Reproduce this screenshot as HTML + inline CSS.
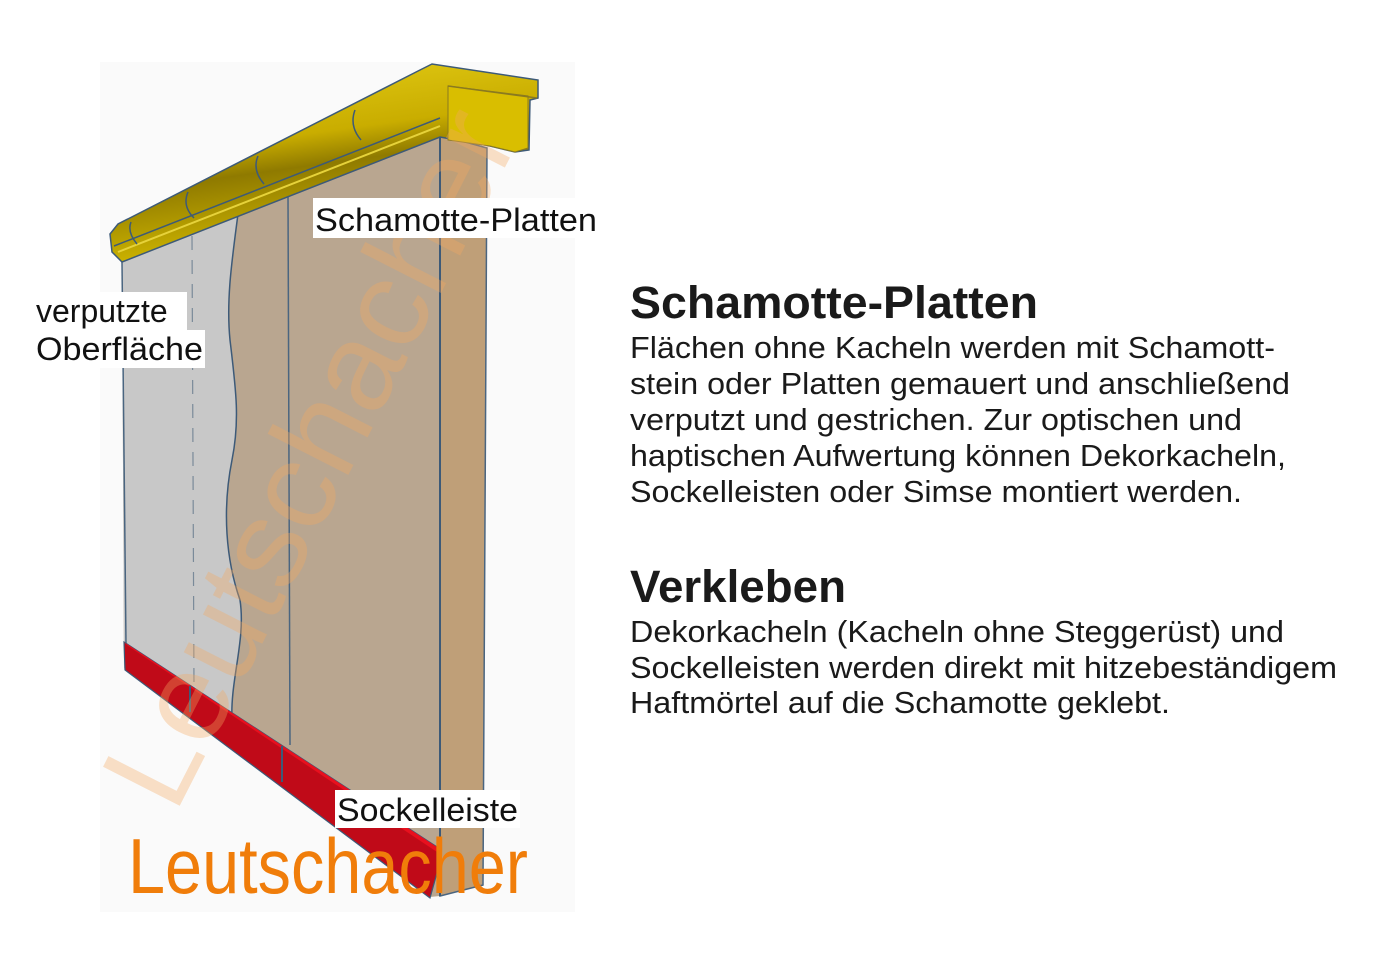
<!DOCTYPE html>
<html><head><meta charset="utf-8"><style>
html,body{margin:0;padding:0;background:#fff;}
svg{display:block;}
text{font-family:"Liberation Sans",sans-serif;}
</style></head><body>
<svg width="1395" height="966" viewBox="0 0 1395 966" xmlns="http://www.w3.org/2000/svg">
<defs>
<linearGradient id="yg" x1="0" y1="0" x2="0.3" y2="1">
<stop offset="0" stop-color="#e8d21a"/><stop offset="0.45" stop-color="#c9ad00"/><stop offset="0.6" stop-color="#8f7a00"/><stop offset="1" stop-color="#d8be00"/>
</linearGradient>
</defs>
<rect x="100" y="62" width="475" height="850" fill="#fafafa"/>
<polygon points="440,135 487,148 483,885 440,896" fill="#bf9f78" stroke="#4a6580" stroke-width="1.5"/>
<polygon points="122,262 440,135 440,896 430,897 124,668" fill="#b9a690"/>
<path d="M122,262 L238,214 C232,260 226,300 230,340 C236,390 240,420 232,460 C222,510 226,560 240,600 C246,640 230,680 232,720 L124,668 Z" fill="#c8c8c8"/>
<path d="M238,214 C232,260 226,300 230,340 C236,390 240,420 232,460 C222,510 226,560 240,600 C246,640 230,680 232,720" fill="none" stroke="#3d5a78" stroke-width="1.5"/>
<line x1="122" y1="262" x2="126" y2="645" stroke="#4a6580" stroke-width="1.5"/>
<line x1="192" y1="236" x2="194" y2="690" stroke="#7a8a99" stroke-width="1.2" stroke-dasharray="14,10"/>
<line x1="288" y1="196" x2="290" y2="745" stroke="#4a6580" stroke-width="1.5"/>
<line x1="440" y1="135" x2="440" y2="896" stroke="#3d5a78" stroke-width="2"/>
<polygon points="124,642 437,847 437,873 430,898 125,670" fill="#c00a18" stroke="#3d5a78" stroke-width="1.2"/>
<polygon points="124,642 437,847 437,852 128,646" fill="#e8101e"/>
<line x1="190" y1="686" x2="190" y2="712" stroke="#3d5a78" stroke-width="2"/>
<line x1="282" y1="746" x2="282" y2="782" stroke="#3d5a78" stroke-width="2"/>
<polygon points="110,234 118,224 420,70 432,64 538,80 538,98 530,100 529,150 515,152 490,146 440,137 122,262 112,252" fill="url(#yg)" stroke="#3d5a78" stroke-width="1.5"/>
<polygon points="448,86 528,96 528,148 515,152 490,146 448,140" fill="#d9be00" stroke="#8a7a20" stroke-width="1"/>
<line x1="448" y1="86" x2="537" y2="98" stroke="#8a7a20" stroke-width="1.5"/>
<path d="M114,246 L440,118" stroke="#3d5a78" stroke-width="1.5" fill="none"/>
<path d="M118,252 L440,126" stroke="#e6d23a" stroke-width="2" fill="none"/>
<path d="M131,222 q-4,10 6,22 M188,192 q-6,14 6,26 M258,156 q-6,14 6,28 M355,110 q-6,16 6,30" stroke="#3d5a78" stroke-width="1.5" fill="none"/>
<text x="0" y="0" font-size="125" fill="#f4a860" fill-opacity="0.35" transform="translate(175,815) rotate(-63)" textLength="760" lengthAdjust="spacingAndGlyphs">Leutschacher</text>
<text x="128" y="893" font-size="78" fill="#f07d0a" textLength="400" lengthAdjust="spacingAndGlyphs">Leutschacher</text>
<rect x="313" y="198" width="284" height="40" fill="#fff"/>
<text x="315" y="231" font-size="32" fill="#111" textLength="282" lengthAdjust="spacingAndGlyphs">Schamotte-Platten</text>
<rect x="32" y="292" width="155" height="38" fill="#fff"/>
<rect x="32" y="330" width="173" height="38" fill="#fff"/>
<text x="36" y="322" font-size="32" fill="#111">verputzte</text>
<text x="36" y="360" font-size="32" fill="#111" textLength="167" lengthAdjust="spacingAndGlyphs">Oberfläche</text>
<rect x="335" y="790" width="185" height="38" fill="#fff"/>
<text x="337" y="821" font-size="32" fill="#111" textLength="181" lengthAdjust="spacingAndGlyphs">Sockelleiste</text>
<text x="630" y="318" font-size="45" font-weight="bold" fill="#1a1a1a" textLength="408" lengthAdjust="spacingAndGlyphs">Schamotte-Platten</text>
<g font-size="31" fill="#1a1a1a">
<text x="630" y="358" textLength="645" lengthAdjust="spacingAndGlyphs">Flächen ohne Kacheln werden mit Schamott-</text>
<text x="630" y="394" textLength="660" lengthAdjust="spacingAndGlyphs">stein oder Platten gemauert und anschließend</text>
<text x="630" y="430" textLength="612" lengthAdjust="spacingAndGlyphs">verputzt und gestrichen. Zur optischen und</text>
<text x="630" y="466" textLength="656" lengthAdjust="spacingAndGlyphs">haptischen Aufwertung können Dekorkacheln,</text>
<text x="630" y="502" textLength="612" lengthAdjust="spacingAndGlyphs">Sockelleisten oder Simse montiert werden.</text>
</g>
<text x="630" y="602" font-size="45" font-weight="bold" fill="#1a1a1a" textLength="216" lengthAdjust="spacingAndGlyphs">Verkleben</text>
<g font-size="31" fill="#1a1a1a">
<text x="630" y="642" textLength="654" lengthAdjust="spacingAndGlyphs">Dekorkacheln (Kacheln ohne Steggerüst) und</text>
<text x="630" y="678" textLength="707" lengthAdjust="spacingAndGlyphs">Sockelleisten werden direkt mit hitzebeständigem</text>
<text x="630" y="713" textLength="540" lengthAdjust="spacingAndGlyphs">Haftmörtel auf die Schamotte geklebt.</text>
</g>
</svg>
</body></html>
